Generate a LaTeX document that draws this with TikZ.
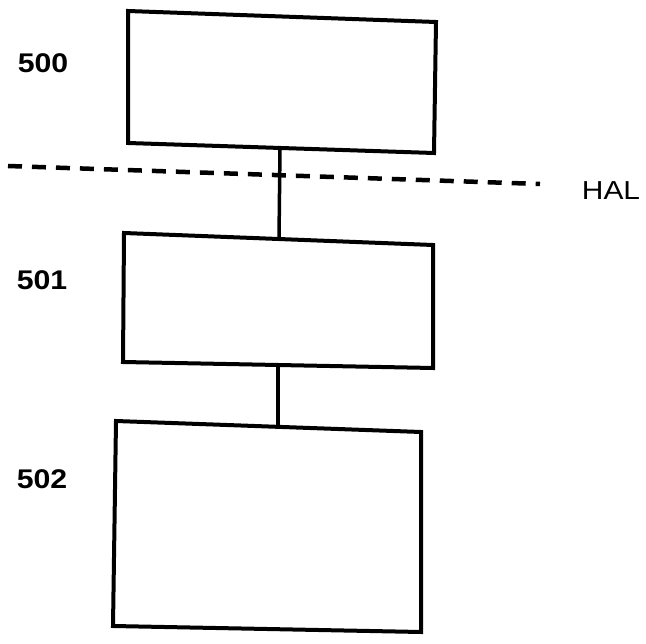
\documentclass[tikz,border=0pt]{standalone}
\usepackage{fontspec}
\setmainfont{Liberation Sans}
\begin{document}
\begin{tikzpicture}[x=1pt,y=-1pt,
  blk/.style={draw=black,line width=4pt,fill=none},
  lbl/.style={font=\fontsize{27}{27}\selectfont\bfseries,xscale=1.12,inner sep=0pt},
  conn/.style={draw=black,line width=3.5pt}]
\useasboundingbox (0,0) rectangle (646,644);
\draw[blk] (128,11) -- (436,22) -- (434,153) -- (128,143) -- cycle;
\coordinate (b500) at (280,148);
\draw[blk] (124,233) -- (433,245) -- (433,368) -- (123,362) -- cycle;
\coordinate (t501) at (279,239);
\coordinate (b501) at (278,365);
\draw[blk] (116,421) -- (421,432) -- (421,632) -- (113,626) -- cycle;
\coordinate (t502) at (278,426);
\node[lbl] (l500) at (43,63) {500};
\node[lbl] (l501) at (42,280) {501};
\node[lbl] (l502) at (42,479) {502};
\node[font=\fontsize{26}{26}\selectfont,xscale=1.15,inner sep=0pt] (hal) at (611,191) {HAL};
\coordinate (dl) at (8,166);
\coordinate (dr) at (540,184);
\draw[black,line width=4.5pt,dash pattern=on 14pt off 10pt] (dl) -- (dr);
\draw[conn] (b500) -- (t501);
\draw[conn] (b501) -- (t502);
\end{tikzpicture}
\end{document}
